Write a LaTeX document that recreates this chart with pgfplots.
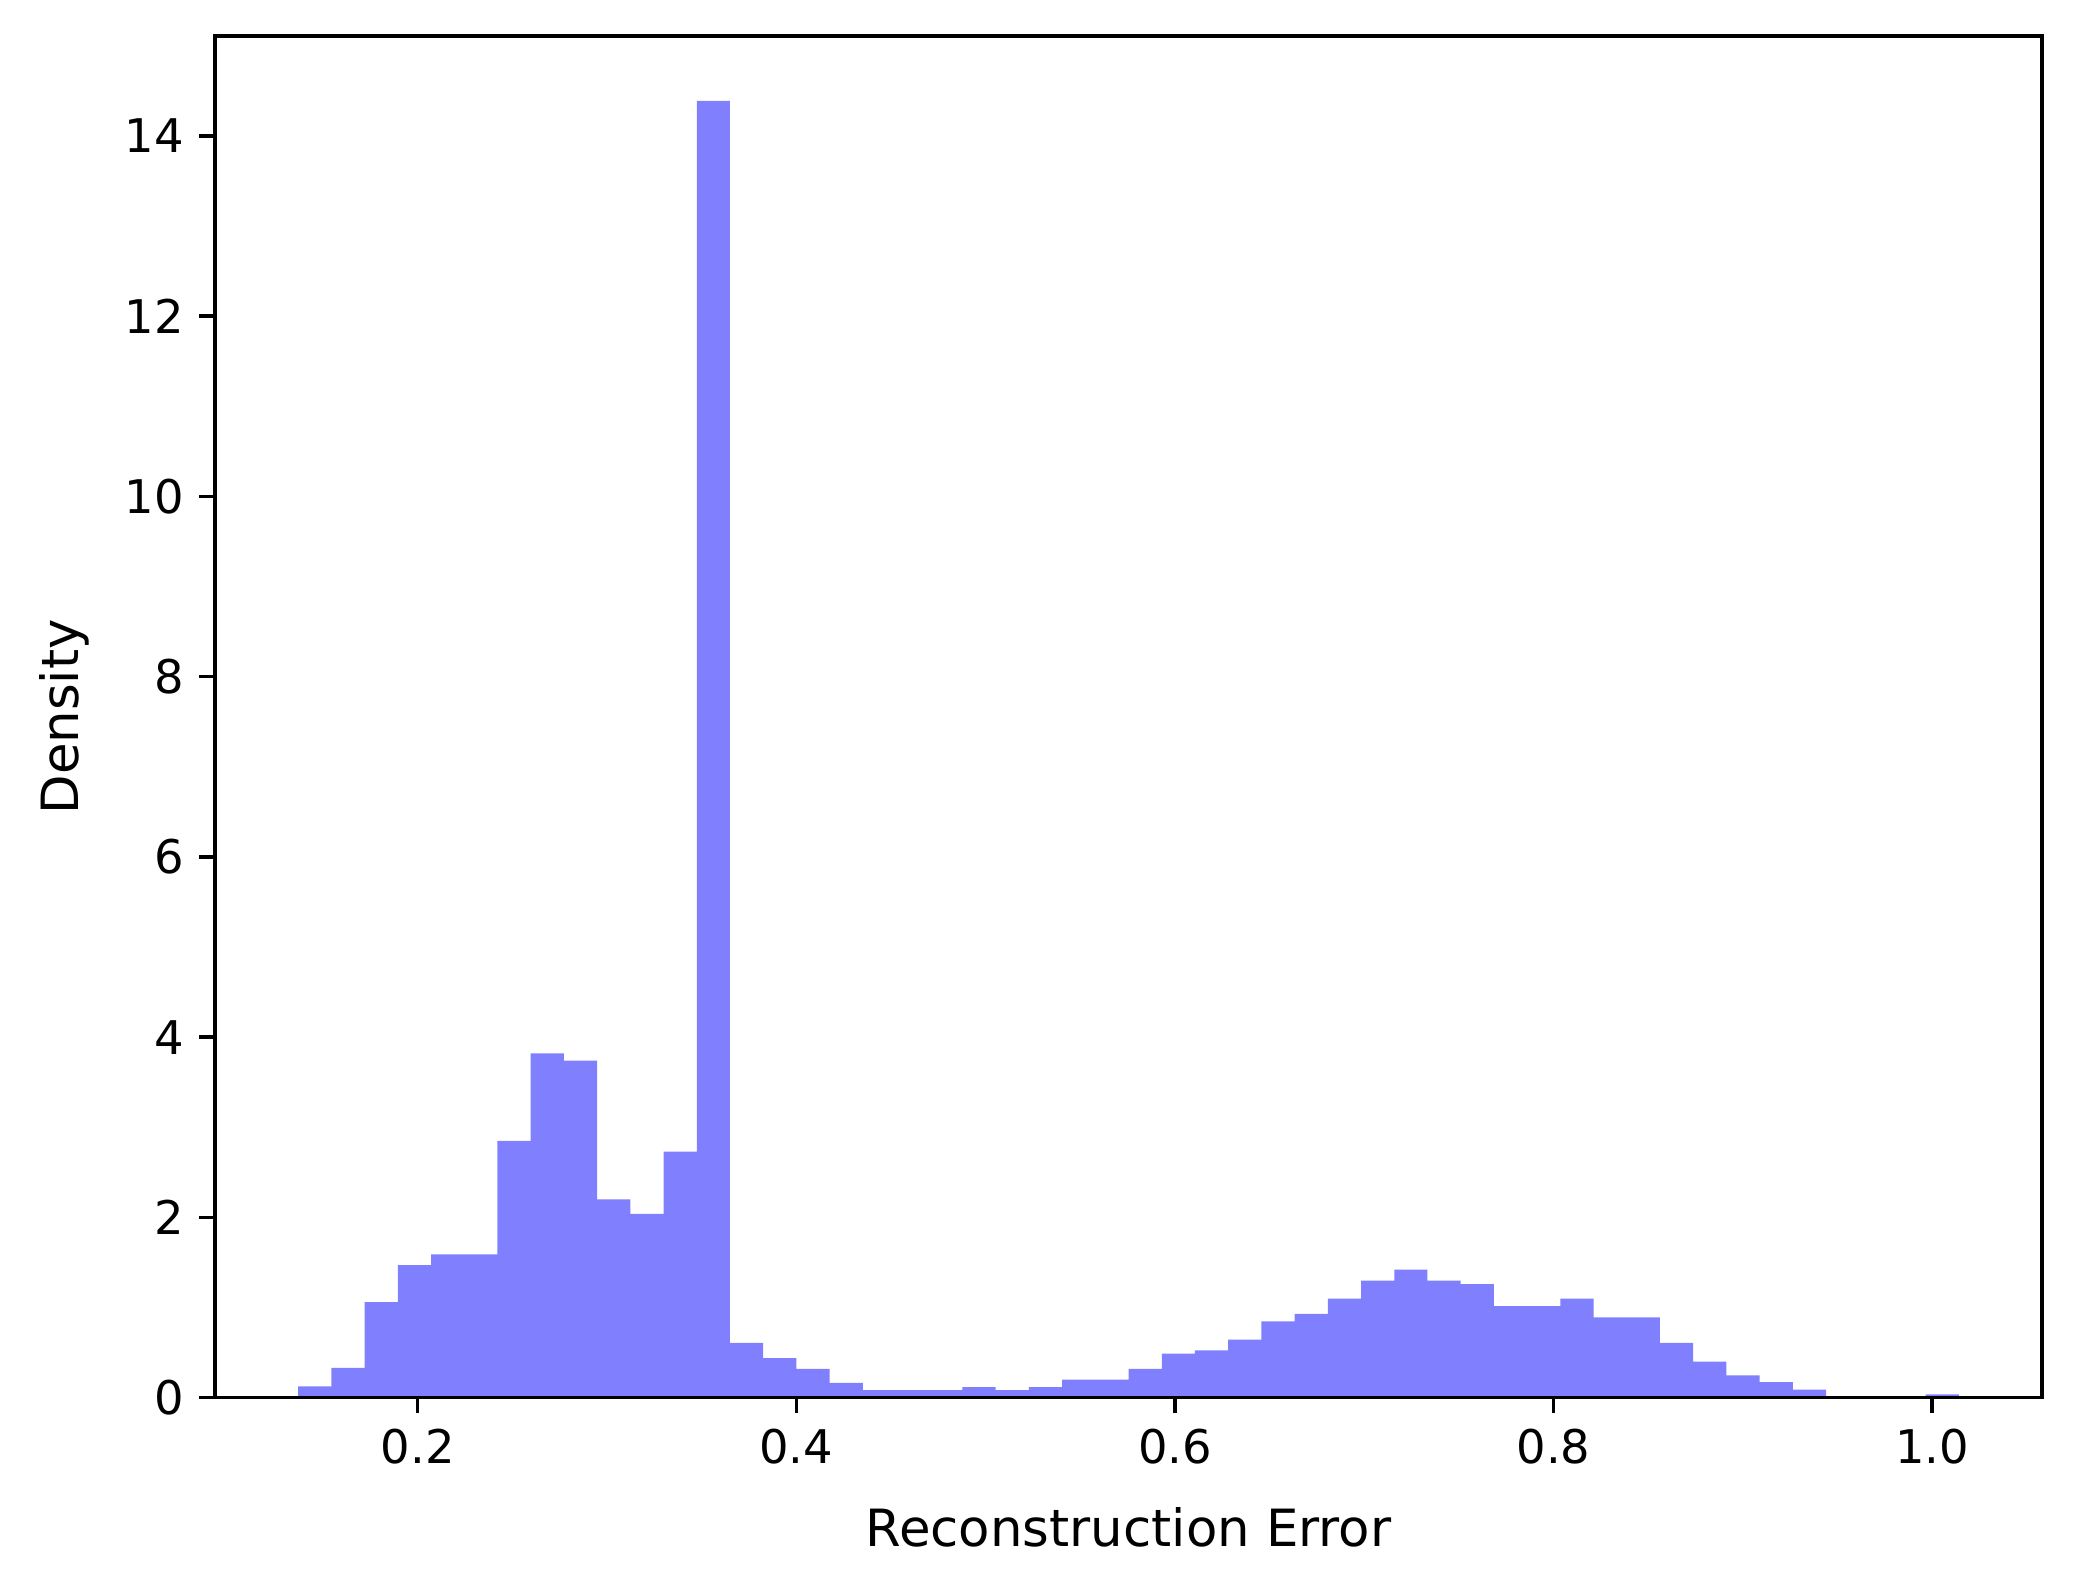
\documentclass[border=0pt]{standalone}
\usepackage{pgfplots}
\pgfplotsset{compat=1.18}
\usepackage{fontspec}
\setmainfont{DejaVu Sans}
\definecolor{histblue}{RGB}{128,128,255}
\begin{document}
\fontsize{12.8}{15.4}\selectfont
\begin{tikzpicture}
\begin{axis}[
  at={(0,0)}, anchor=south west,
  width=18.26cm, height=13.61cm, scale only axis,
  xmin=0.0930, xmax=1.0580, ymin=0, ymax=15.11,
  xtick={0.2,0.4,0.6,0.8,1.0},
  xticklabels={0.2,0.4,0.6,0.8,1.0},
  ytick={0,2,4,6,8,10,12,14},
  yticklabels={0,2,4,6,8,10,12,14},
  tick align=outside, major tick length=4.5pt,
  xtick pos=bottom, ytick pos=left,
  every tick/.style={black, line width=1pt},
  axis line style={line width=1pt},
  axis on top,
  xlabel={Reconstruction Error}, ylabel={Density},
  tick label style={font=\fontsize{13.2}{15.8}\selectfont},
  label style={font=\fontsize{14.6}{17.5}\selectfont},
  xlabel style={yshift=-0.12cm},
  ylabel style={yshift=0.05cm},
]
\addplot[ybar interval, fill=histblue, draw=none] coordinates {
(0.13690,0.125) (0.15444,0.33) (0.17199,1.06) (0.18953,1.47) (0.20708,1.59)
(0.22462,1.59) (0.24216,2.85) (0.25971,3.82) (0.27725,3.74) (0.29480,2.20)
(0.31234,2.04) (0.32988,2.73) (0.34743,14.39) (0.36497,0.607) (0.38252,0.44)
(0.40006,0.32) (0.41760,0.165) (0.43515,0.085) (0.45269,0.085) (0.47024,0.085)
(0.48778,0.118) (0.50532,0.085) (0.52287,0.118) (0.54041,0.20) (0.55796,0.20)
(0.57550,0.32) (0.59304,0.49) (0.61059,0.526) (0.62813,0.643) (0.64568,0.846)
(0.66322,0.93) (0.68076,1.10) (0.69831,1.30) (0.71585,1.42) (0.73340,1.30)
(0.75094,1.26) (0.76848,1.015) (0.78603,1.015) (0.80357,1.10) (0.82112,0.89)
(0.83866,0.89) (0.85620,0.607) (0.87375,0.40) (0.89129,0.246) (0.90884,0.173)
(0.92638,0.088) (0.94392,0) (0.96147,0) (0.97901,0) (0.99656,0.037)
(1.01410,0)
};
\end{axis}
\pgfresetboundingbox
\path[use as bounding box] (-2.15cm,-1.86cm) rectangle (18.67cm,13.97cm);
\end{tikzpicture}
\end{document}
